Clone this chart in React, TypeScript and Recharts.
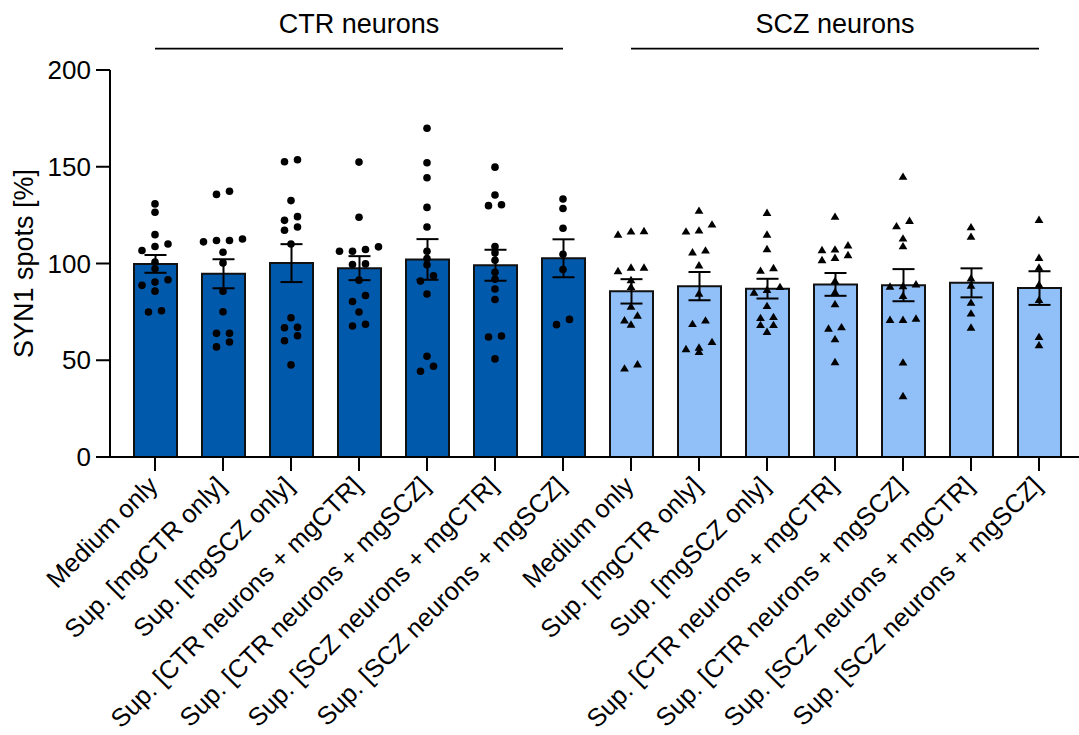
import React from 'react';
import { ComposedChart, Bar, Cell, ErrorBar, Scatter, XAxis, YAxis, ReferenceLine } from 'recharts';

// conditions, same order in both neuron groups
const conditions = [
  'Medium only',
  'Sup. [mgCTR only]',
  'Sup. [mgSCZ only]',
  'Sup. [CTR neurons + mgCTR]',
  'Sup. [CTR neurons + mgSCZ]',
  'Sup. [SCZ neurons + mgCTR]',
  'Sup. [SCZ neurons + mgSCZ]',
];
const groupNames = ['CTR neurons', 'SCZ neurons'];

const ctrMeans = [99.8, 94.7, 100.2, 97.6, 102.1, 99.1, 102.7];
const ctrSem = [4.6, 7.5, 9.8, 6.2, 10.5, 8.0, 9.8];
const sczMeans = [85.6, 88.3, 87.0, 89.2, 88.8, 90.0, 87.3];
const sczSem = [6.3, 7.3, 5.1, 5.9, 8.3, 7.5, 8.7];

const ctrPoints = [
  [130.8, 126.5, 114.9, 110.1, 108.8, 106.7, 100.7, 97.3, 91.6, 90.4, 88.7, 85.7, 75.6, 74.9],
  [137.3, 135.7, 112.7, 111.9, 111.9, 111.2, 105.8, 100.3, 85.7, 75.1, 63.9, 63.9, 59.4, 56.9],
  [153.6, 152.6, 132.5, 124.2, 122.3, 118.9, 117.2, 110.1, 72.0, 67.0, 66.8, 62.7, 60.1, 47.6],
  [152.4, 123.9, 108.6, 107.2, 106.3, 106.3, 99.8, 99.5, 91.4, 83.5, 80.4, 74.9, 68.6, 67.7],
  [169.9, 152.1, 144.3, 129.0, 118.9, 106.3, 102.6, 99.3, 93.7, 90.9, 84.2, 52.1, 46.9, 44.3],
  [149.8, 135.4, 130.4, 129.9, 108.8, 105.5, 101.7, 95.5, 91.9, 86.8, 81.4, 62.5, 62.0, 50.7],
  [133.3, 128.4, 118.2, 104.8, 96.9, 71.1, 68.4],
];
const sczPoints = [
  [116.7, 116.5, 114.9, 97.8, 97.8, 96.0, 91.4, 87.8, 77.7, 73.0, 70.6, 68.4, 47.8, 45.7],
  [127.2, 120.1, 117.0, 116.5, 106.7, 105.7, 99.0, 84.4, 70.5, 68.7, 59.4, 56.5, 55.7, 54.3],
  [126.1, 114.9, 107.4, 97.6, 96.2, 87.8, 86.3, 84.9, 78.0, 72.3, 71.8, 68.2, 68.2, 64.6],
  [124.1, 109.3, 107.2, 106.9, 104.3, 102.9, 101.7, 90.9, 85.2, 78.9, 67.0, 66.3, 60.8, 49.0],
  [144.8, 122.0, 119.2, 112.9, 108.9, 89.2, 88.3, 88.0, 83.2, 71.5, 70.8, 70.8, 48.8, 31.4],
  [118.7, 113.8, 92.3, 88.5, 79.7, 74.1, 66.8],
  [122.5, 102.9, 97.8, 89.0, 81.1, 62.0, 57.7],
];

const yTicks = [0, 50, 100, 150, 200];

const DARK = '#0059AB';
const LIGHT = '#91C0F8';
const FONT = '"Liberation Sans", Arial, Helvetica, sans-serif';
const LANE_PX = 13;
const STEP_GAP = 3.2; // max gap to the previous value in a row
const ROW_SPAN = 3.75; // max spread of values in one row

const barData = [
  ...ctrMeans.map((m, i) => ({ key: `ctr-${i}`, label: conditions[i], group: 0, mean: m, sem: ctrSem[i] })),
  ...sczMeans.map((m, i) => ({ key: `scz-${i}`, label: conditions[i], group: 1, mean: m, sem: sczSem[i] })),
];

// prism-like scatter: close values form a row, each row is centred on the bar
function swarm(values: number[], x: number) {
  const sorted = [...values].sort((a, b) => b - a);
  const rows: number[][] = [];
  sorted.forEach((v) => {
    const row = rows[rows.length - 1];
    if (row && row[row.length - 1] - v < STEP_GAP && row[0] - v < ROW_SPAN) row.push(v);
    else rows.push([v]);
  });
  return rows.flatMap((row) => row.map((v, k) => ({ x, y: v, lane: (row.length - 1) / 2 - k })));
}

const ctrScatter = ctrPoints.flatMap((p, i) => swarm(p, i));
const sczScatter = sczPoints.flatMap((p, i) => swarm(p, i + ctrPoints.length));

const Dot = (props: any) => {
  if (props.cx == null) return null;
  const cx = props.cx + (props.payload?.lane ?? 0) * LANE_PX;
  return <circle cx={cx} cy={props.cy} r={3.8} fill="#000" />;
};

const Tri = (props: any) => {
  if (props.cx == null) return null;
  const cx = props.cx + (props.payload?.lane ?? 0) * LANE_PX;
  const cy = props.cy;
  return <polygon points={`${cx},${cy - 4.4} ${cx + 4.4},${cy + 3} ${cx - 4.4},${cy + 3}`} fill="#000" />;
};

const XTick = (props: any) => {
  const { x, y, payload } = props;
  const d = barData.find((b) => b.key === payload.value);
  return (
    <text
      transform={`translate(${x - 2},${y + 8}) rotate(-45)`}
      textAnchor="end"
      dy="0.35em"
      fontSize={25.5}
      fontFamily={FONT}
      fill="#000"
    >
      {d ? d.label : ''}
    </text>
  );
};

const YLabel = (props: any) => {
  const vb = props.viewBox || { x: 0, y: 70, width: 110, height: 387 };
  const cx = vb.x + 33;
  const cy = vb.y + vb.height / 2;
  return (
    <text transform={`translate(${cx},${cy}) rotate(-90)`} textAnchor="middle" fontSize={27} fontFamily={FONT} fill="#000">
      SYN1 spots [%]
    </text>
  );
};

const groupSpan = [
  [0, ctrPoints.length - 1],
  [ctrPoints.length, ctrPoints.length + sczPoints.length - 1],
];

export default function App() {
  return (
    <div style={{ position: 'absolute', left: 0, top: 0, background: '#fff' }}>
      <ComposedChart width={1079} height={735} data={barData} margin={{ top: 70, right: 0, bottom: 0, left: 0 }}>
        <XAxis
          dataKey="key"
          interval={0}
          height={278}
          tick={<XTick />}
          tickSize={14}
          axisLine={{ stroke: '#000', strokeWidth: 2 }}
          tickLine={{ stroke: '#000', strokeWidth: 2 }}
          padding={{ left: 11, right: 6 }}
        />
        <XAxis
          xAxisId="pts"
          type="number"
          dataKey="x"
          domain={[-0.5, 13.5]}
          allowDataOverflow
          hide
          padding={{ left: 11, right: 6 }}
        />
        <YAxis
          domain={[0, 200]}
          ticks={yTicks}
          width={110}
          tickSize={14}
          tickMargin={5}
          tick={{ fontSize: 26, fill: '#000', fontFamily: FONT }}
          axisLine={{ stroke: '#000', strokeWidth: 2 }}
          tickLine={{ stroke: '#000', strokeWidth: 2 }}
          label={<YLabel />}
        />
        <Bar dataKey="mean" barSize={43} stroke="#111" strokeWidth={2} isAnimationActive={false}>
          {barData.map((d) => (
            <Cell key={d.key} fill={d.group === 0 ? DARK : LIGHT} />
          ))}
          <ErrorBar dataKey="sem" width={11} stroke="#000" strokeWidth={2} direction="y" />
        </Bar>
        <Scatter xAxisId="pts" data={ctrScatter} dataKey="y" shape={Dot} isAnimationActive={false} />
        <Scatter xAxisId="pts" data={sczScatter} dataKey="y" shape={Tri} isAnimationActive={false} />
        {groupNames.map((g, gi) => (
          <ReferenceLine
            key={g}
            xAxisId="pts"
            ifOverflow="visible"
            segment={[
              { x: groupSpan[gi][0], y: 211 },
              { x: groupSpan[gi][1], y: 211 },
            ]}
            stroke="#000"
            strokeWidth={1.8}
            label={{ value: g, position: 'top', offset: 16, fontSize: 27, fill: '#000', fontFamily: FONT }}
          />
        ))}
      </ComposedChart>
    </div>
  );
}
